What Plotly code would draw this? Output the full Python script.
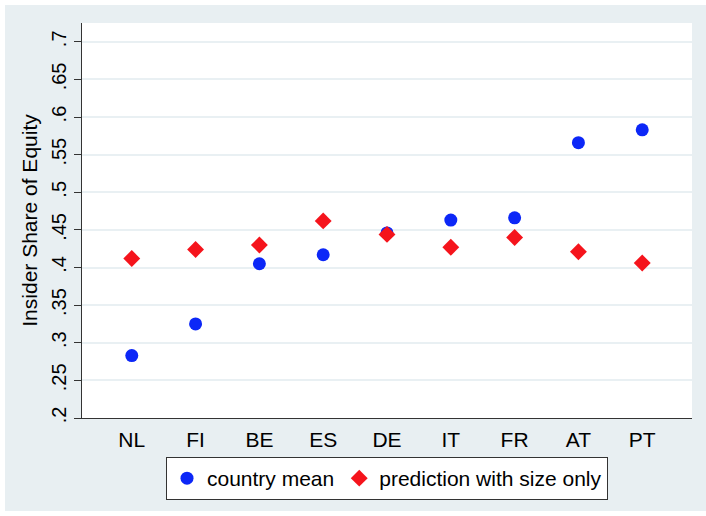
import plotly.graph_objects as go

# Countries, ordered along the x axis
countries = ["NL", "FI", "BE", "ES", "DE", "IT", "FR", "AT", "PT"]

# Insider share of equity: observed country means and size-only predictions
country_mean = [0.283, 0.325, 0.405, 0.417, 0.446, 0.463, 0.466, 0.566, 0.583]
prediction_size_only = [0.412, 0.424, 0.430, 0.462, 0.444, 0.427, 0.440, 0.421, 0.406]

# Y axis ticks
y_tickvals = [0.2, 0.25, 0.3, 0.35, 0.4, 0.45, 0.5, 0.55, 0.6, 0.65, 0.7]
y_ticktext = [".2", ".25", ".3", ".35", ".4", ".45", ".5", ".55", ".6", ".65", ".7"]

FONT = "Liberation Sans, Arial, Helvetica, sans-serif"
BG = "#e8eff2"
GRID = "#e9f0f3"

fig = go.Figure()

fig.add_trace(go.Scatter(
    x=countries, y=country_mean, mode="markers", name="country mean",
    marker=dict(symbol="circle", size=13, color="#0c27f7", line=dict(width=0)),
))
fig.add_trace(go.Scatter(
    x=countries, y=prediction_size_only, mode="markers",
    name="prediction with size only",
    marker=dict(symbol="diamond", size=13, color="#f5141c", line=dict(width=0)),
))

L, R, T, B = 82, 14, 23, 98
W, H = 706, 516
pw, ph = W - L - R, H - T - B


def px_x(p):
    return (p - L) / pw


def px_y(p):
    return (H - B - p) / ph


# Grey graph region with a thin white border, and the white plot region
fig.add_shape(type="rect", xref="paper", yref="paper",
              x0=px_x(5), x1=px_x(W), y0=px_y(511), y1=px_y(5),
              fillcolor=BG, line=dict(width=0), layer="below")
fig.add_shape(type="rect", xref="paper", yref="paper",
              x0=0, x1=1, y0=0, y1=1,
              fillcolor="white", line=dict(width=0), layer="below")

fig.update_layout(
    width=W, height=H,
    margin=dict(l=L, r=R, t=T, b=B, pad=0),
    paper_bgcolor="white",
    plot_bgcolor="white",
    font=dict(family=FONT, size=21, color="black"),
    showlegend=True,
    legend=dict(
        orientation="h",
        x=px_x(387), xanchor="center",
        y=px_y(457), yanchor="top",
        bgcolor="white", bordercolor="#333333", borderwidth=1,
        font=dict(family=FONT, size=21, color="black"),
        itemwidth=30, tracegroupgap=0,
    ),
    xaxis=dict(
        type="category",
        range=[-0.78, 8.78],
        showgrid=False, zeroline=False,
        showline=True, linecolor="#333333", linewidth=1,
        ticks="outside", ticklen=3, tickcolor="rgba(0,0,0,0)",
        tickfont=dict(size=21),
        fixedrange=True,
    ),
    yaxis=dict(
        range=[0.2, 0.725],
        tickvals=y_tickvals, ticktext=y_ticktext,
        tickangle=-90,
        ticks="outside", ticklen=7, tickcolor="#333333", tickwidth=1,
        showline=True, linecolor="#333333", linewidth=1,
        showgrid=True, gridcolor=GRID, gridwidth=1.5,
        zeroline=False,
        tickfont=dict(size=20),
        title=dict(text="Insider Share of Equity", font=dict(size=21), standoff=4),
        fixedrange=True,
    ),
)

fig.write_html("out.html")
